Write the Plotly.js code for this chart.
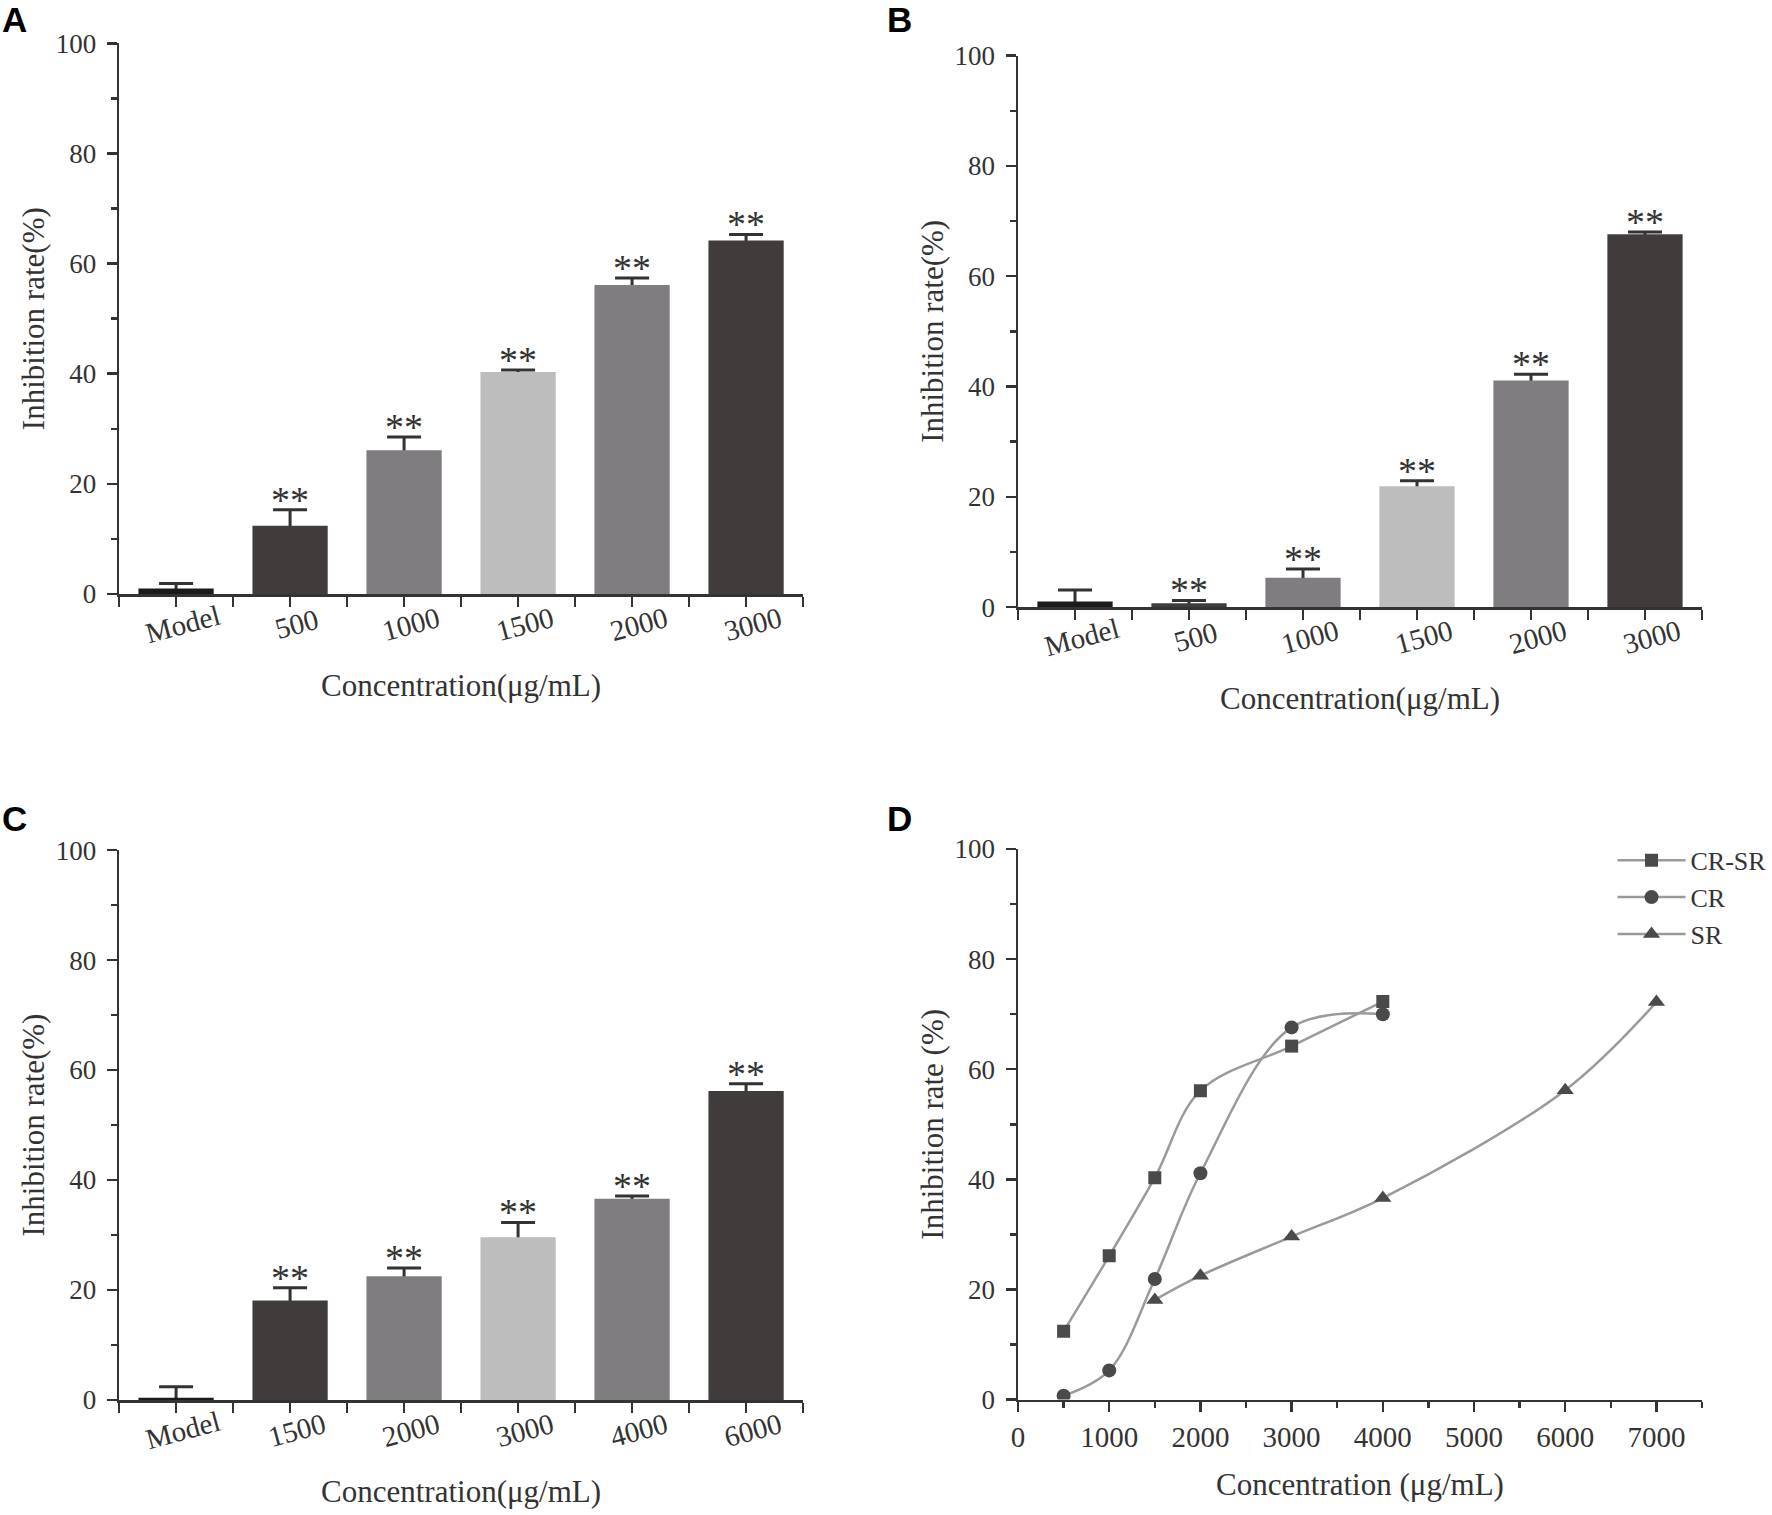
<!DOCTYPE html>
<html>
<head>
<meta charset="utf-8">
<script src="https://cdn.plot.ly/plotly-3.0.1.min.js"></script>
<style>html,body{margin:0;padding:0;background:#fff;}#chart{width:1772px;height:1515px;}</style>
</head>
<body>
<div id="chart"></div>
<script>
// ---- data ----
const catsA = ['Model', '500', '1000', '1500', '2000', '3000'];
const valsA = [1.0, 12.4, 26.1, 40.3, 56.1, 64.2];
const errA  = [0.9, 2.9, 2.4, 0.4, 1.3, 1.1];

const catsB = ['Model', '500', '1000', '1500', '2000', '3000'];
const valsB = [1.0, 0.7, 5.3, 21.9, 41.1, 67.6];
const errB  = [2.1, 0.5, 1.6, 1.0, 1.1, 0.4];

const catsC = ['Model', '1500', '2000', '3000', '4000', '6000'];
const valsC = [0.4, 18.1, 22.5, 29.6, 36.6, 56.2];
const errC  = [2.0, 2.3, 1.5, 2.7, 0.5, 1.3];

const sigLabel = '**';

const concCRSR = [500, 1000, 1500, 2000, 3000, 4000];
const rateCRSR = [12.4, 26.1, 40.3, 56.1, 64.2, 72.3];
const concCR   = [500, 1000, 1500, 2000, 3000, 4000];
const rateCR   = [0.7, 5.3, 21.9, 41.1, 67.6, 70.0];
const concSR   = [1500, 2000, 3000, 4000, 6000, 7000];
const rateSR   = [18.1, 22.5, 29.6, 36.6, 56.2, 72.2];

// ---- style ----
const SERIF = '"Liberation Serif", "Times New Roman", serif';
const INK = '#333333';
const barColors = ['#1c1a1a', '#403c3c', '#7f7d80', '#bdbdbd', '#7f7d80', '#403c3c'];
const yTickFont = {family: SERIF, size: 27, color: INK};
const xTickFont = {family: SERIF, size: 29, color: INK};
const titleFont = {family: SERIF, size: 31, color: INK};
const MAJ = 10, MIN = 6, TW = 2.5;

function idx(arr) { return arr.map((_, i) => i); }

// error bars drawn first (transparent bars), then the coloured bars on top hide the lower half
function errTrace(cats, vals, errs, xa, ya) {
  return {
    type: 'bar', x: idx(cats), y: vals, width: 0.66, xaxis: xa, yaxis: ya,
    marker: {color: 'rgba(0,0,0,0)', line: {width: 0}},
    error_y: {type: 'data', symmetric: true, array: errs, color: INK, thickness: 3, width: 17},
    showlegend: false, hoverinfo: 'skip'
  };
}
function barTrace(cats, vals, xa, ya) {
  return {
    type: 'bar', x: idx(cats), y: vals, width: 0.66, xaxis: xa, yaxis: ya,
    marker: {color: barColors, line: {width: 0}},
    showlegend: false, hoverinfo: 'x+y'
  };
}

function catXAxis(dom, ya) {
  return {
    domain: dom, anchor: ya, range: [-0.5, 5.5],
    tickmode: 'array', tickvals: [0, 1, 2, 3, 4, 5], showticklabels: false,
    ticks: 'outside', ticklen: MAJ, tickwidth: TW, tickcolor: INK,
    minor: {tickmode: 'linear', tick0: 0.5, dtick: 1, ticks: 'outside', ticklen: MAJ, tickwidth: TW, tickcolor: INK},
    showline: true, linewidth: TW, linecolor: INK, showgrid: false, zeroline: false,
    title: {text: 'Concentration(μg/mL)', font: titleFont, standoff: 69}
  };
}

function rateYAxis(dom, xa, title) {
  return {
    domain: dom, anchor: xa, range: [0, 100], dtick: 20,
    ticks: 'outside', ticklen: MAJ, tickwidth: TW, tickcolor: INK, tickfont: yTickFont,
    ticklabelstandoff: 5,
    minor: {dtick: 10, ticks: 'outside', ticklen: MIN, tickwidth: TW, tickcolor: INK},
    showline: true, linewidth: TW, linecolor: INK, showgrid: false, zeroline: false,
    title: {text: title, font: titleFont, standoff: 2}
  };
}

const lineStyle = {shape: 'spline', smoothing: 1, color: '#9a9a9a', width: 2.5};
const traces = [
  errTrace(catsA, valsA, errA, 'x', 'y'), barTrace(catsA, valsA, 'x', 'y'),
  errTrace(catsB, valsB, errB, 'x2', 'y2'), barTrace(catsB, valsB, 'x2', 'y2'),
  errTrace(catsC, valsC, errC, 'x3', 'y3'), barTrace(catsC, valsC, 'x3', 'y3'),
  {type: 'scatter', mode: 'lines+markers', name: 'CR-SR', x: concCRSR, y: rateCRSR,
   xaxis: 'x4', yaxis: 'y4', line: lineStyle, marker: {symbol: 'square', size: 13, color: '#4a4a4a'}},
  {type: 'scatter', mode: 'lines+markers', name: 'CR', x: concCR, y: rateCR,
   xaxis: 'x4', yaxis: 'y4', line: lineStyle, marker: {symbol: 'circle', size: 14, color: '#4a4a4a'}},
  {type: 'scatter', mode: 'lines+markers', name: 'SR', x: concSR, y: rateSR,
   xaxis: 'x4', yaxis: 'y4', line: lineStyle, marker: {symbol: 'triangle-up', size: 15, color: '#4a4a4a'}}
];

const annotations = [];
function addBarLabels(cats, vals, errs, xr, yr) {
  cats.forEach((c, i) => {
    annotations.push({xref: xr, yref: yr, x: i + 0.06, y: 0, yshift: -30, text: c, showarrow: false,
      textangle: -15, font: xTickFont, xanchor: 'center', yanchor: 'middle'});
    if (i > 0) {
      annotations.push({xref: xr, yref: yr, x: i, y: vals[i] + errs[i], yshift: -13, text: sigLabel,
        showarrow: false, font: {family: SERIF, size: 38, color: INK}, xanchor: 'center', yanchor: 'bottom'});
    }
  });
}
addBarLabels(catsA, valsA, errA, 'x', 'y');
addBarLabels(catsB, valsB, errB, 'x2', 'y2');
addBarLabels(catsC, valsC, errC, 'x3', 'y3');

const panelFont = {family: '"Liberation Sans", Arial, sans-serif', size: 35, color: '#000'};
[['A', 0.0, 1.0], ['B', 0.4995, 1.0], ['C', 0.0, 0.4726], ['D', 0.4995, 0.4726]].forEach(p => {
  annotations.push({xref: 'paper', yref: 'paper', x: p[1], y: p[2], yshift: 2, text: '<b>' + p[0] + '</b>',
    showarrow: false, font: panelFont, xanchor: 'left', yanchor: 'top'});
});

const layout = {
  width: 1772, height: 1515, margin: {l: 0, r: 0, t: 0, b: 0},
  paper_bgcolor: '#fff', plot_bgcolor: '#fff', barmode: 'overlay',
  xaxis: catXAxis([0.0672, 0.4532], 'y'),
  yaxis: rateYAxis([0.6079, 0.9714], 'x', 'Inhibition rate(%)'),
  xaxis2: catXAxis([0.5745, 0.9605], 'y2'),
  yaxis2: rateYAxis([0.5993, 0.9633], 'x2', 'Inhibition rate(%)'),
  xaxis3: catXAxis([0.0672, 0.4532], 'y3'),
  yaxis3: rateYAxis([0.0759, 0.4389], 'x3', 'Inhibition rate(%)'),
  xaxis4: {
    domain: [0.5745, 0.9605], anchor: 'y4', range: [0, 7500], dtick: 1000,
    ticks: 'outside', ticklen: MAJ, tickwidth: TW, tickcolor: INK, tickfont: xTickFont,
    minor: {dtick: 500, ticks: 'outside', ticklen: MIN, tickwidth: TW, tickcolor: INK},
    showline: true, linewidth: TW, linecolor: INK, showgrid: false, zeroline: false,
    title: {text: 'Concentration (μg/mL)', font: titleFont, standoff: 22}
  },
  yaxis4: rateYAxis([0.0762, 0.4396], 'x4', 'Inhibition rate (%)'),
  legend: {x: 0.910, y: 0.4476, xanchor: 'left', yanchor: 'top', bgcolor: 'rgba(0,0,0,0)',
           font: {family: SERIF, size: 26, color: INK}, tracegroupgap: 0, itemwidth: 68},
  annotations: annotations
};

Plotly.newPlot('chart', traces, layout, {displayModeBar: false, staticPlot: true});
</script>
</body>
</html>
